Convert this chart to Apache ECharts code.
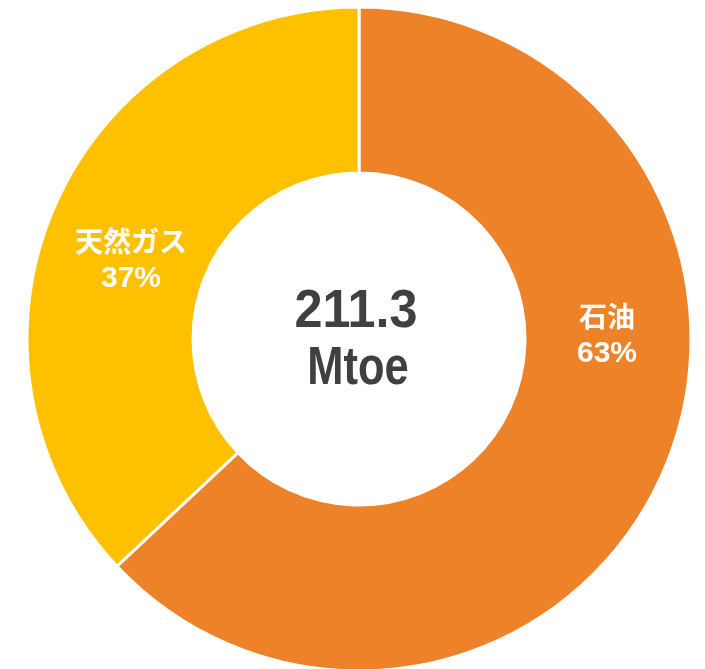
<!DOCTYPE html>
<html><head><meta charset="utf-8">
<script src="https://cdn.jsdelivr.net/npm/echarts@6/dist/echarts.min.js"></script>
<style>html,body{margin:0;padding:0;background:#fff}#c{width:705px;height:669px}</style>
</head><body><div id="c"></div>
<script>
const categories = ['石油', '天然ガス'];
const values = [63, 37];
const colors = ['#ED8228', '#FFC000'];
const totalLabel = ['211.3', 'Mtoe'];

const CJK = '"Noto Sans CJK JP", sans-serif';
const LAT = '"Liberation Sans", Arial, sans-serif';
const labelPos = [[607, 335], [131, 260]];

const chart = echarts.init(document.getElementById('c'));
chart.setOption({
  animation: false,
  series: [{
    type: 'pie',
    center: [359, 339],
    radius: [166, 332],
    startAngle: 90,
    clockwise: true,
    data: categories.map((c, i) => ({ name: c, value: values[i], itemStyle: { color: colors[i] } })),
    itemStyle: { borderColor: '#fff', borderWidth: 3 },
    label: {
      show: true,
      position: 'inside',
      formatter: p => '{n|' + p.name + '}\n{v|' + p.value + '%}',
      rich: {
        n: { fontFamily: CJK, fontSize: 28, fontWeight: 'bold', color: '#fff', lineHeight: 38, align: 'center' },
        v: { fontFamily: LAT, fontSize: 30, fontWeight: 'bold', color: '#fff', lineHeight: 38, align: 'center' }
      }
    },
    labelLayout: p => ({ x: labelPos[p.dataIndex][0], y: labelPos[p.dataIndex][1], align: 'center', verticalAlign: 'middle' }),
    labelLine: { show: false },
    emphasis: { disabled: true }
  }],
  graphic: [{
    type: 'text',
    x: 356, y: 312, scaleX: 0.95,
    style: {
      x: 0, y: 0,
      text: totalLabel[0],
      font: 'bold 53px ' + LAT,
      fill: '#404040',
      align: 'center',
      verticalAlign: 'middle'
    }
  }, {
    type: 'text',
    x: 358, y: 369, scaleX: 0.82,
    style: {
      x: 0, y: 0,
      text: totalLabel[1],
      font: 'bold 53px ' + LAT,
      fill: '#404040',
      align: 'center',
      verticalAlign: 'middle'
    }
  }]
});
</script></body></html>
